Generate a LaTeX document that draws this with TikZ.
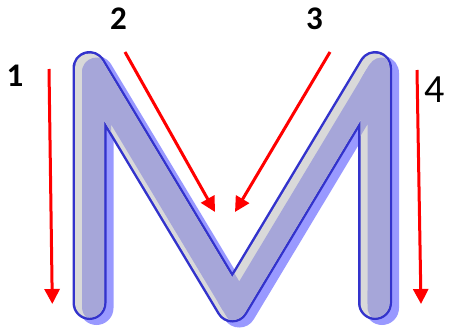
\documentclass[tikz,border=0pt]{standalone}
\usepackage{fontspec}
\setmainfont{Carlito}
\usetikzlibrary{calc,arrows.meta}
\definecolor{mblue}{HTML}{3333CC}
\definecolor{mlav}{HTML}{A6A6D9}
\definecolor{mgray}{HTML}{D9D9D9}
\definecolor{mshadow}{HTML}{9999FF}
\tikzset{
  mline/.style={insert path={(89.5,30) -- (89.5,265) -- (232.25,27.5) -- (375,265) -- (375,30)}},
  mstroke/.style={line cap=round, line join=round},
  arr/.style={draw=red, line width=3pt, -{Triangle[length=15pt,width=15pt,fill=red]}},
  lbl/.style={inner sep=0pt, font=\bfseries\fontsize{33}{33}\selectfont},
  lblreg/.style={inner sep=0pt, font=\fontsize{40}{40}\selectfont}
}
\newcommand\lavpiece[1]{\begin{scope}\clip #1;
  \draw[mstroke, draw=mlav, line width=29pt, shift={(7,-4)}, mline];
\end{scope}}
\begin{document}
\begin{tikzpicture}[x=1pt,y=1pt]
\useasboundingbox (0,0) rectangle (450,333);
\coordinate (A) at (89.5,30);
\coordinate (B) at (89.5,265);
\coordinate (C) at (232.25,27.5);
\coordinate (D) at (375,265);
\coordinate (E) at (375,30);
% shadow
\draw[mstroke, draw=mshadow, line width=34pt, shift={(7,-5)}, mline];
% outline
\draw[mstroke, draw=mblue, line width=34pt, mline];
% highlight base
\draw[mstroke, draw=mgray, line width=29pt, mline];
% lavender body, clipped to the letter
\lavpiece{(A) circle[radius=14.5]}
\lavpiece{(B) circle[radius=14.5]}
\lavpiece{(C) circle[radius=14.5]}
\lavpiece{(D) circle[radius=14.5]}
\lavpiece{(E) circle[radius=14.5]}
\lavpiece{($(A)!14.5pt!90:(B)$) -- ($(B)!14.5pt!-90:(A)$) -- ($(B)!14.5pt!90:(A)$) -- ($(A)!14.5pt!-90:(B)$) -- cycle}
\lavpiece{($(B)!14.5pt!90:(C)$) -- ($(C)!14.5pt!-90:(B)$) -- ($(C)!14.5pt!90:(B)$) -- ($(B)!14.5pt!-90:(C)$) -- cycle}
\lavpiece{($(C)!14.5pt!90:(D)$) -- ($(D)!14.5pt!-90:(C)$) -- ($(D)!14.5pt!90:(C)$) -- ($(C)!14.5pt!-90:(D)$) -- cycle}
\lavpiece{($(D)!14.5pt!90:(E)$) -- ($(E)!14.5pt!-90:(D)$) -- ($(E)!14.5pt!90:(D)$) -- ($(D)!14.5pt!-90:(E)$) -- cycle}
% labels
\node[lbl] (l1) at (15,257) {1};
\node[lbl] (l2) at (118.5,314.5) {2};
\node[lbl] (l3) at (314.5,314.5) {3};
\node[lblreg] (l4) at (434.5,243) {4};
% arrows
\coordinate (a1s) at (49,264);   \coordinate (a1e) at (52.3,29);
\coordinate (a2s) at (125,281);  \coordinate (a2e) at (215,121);
\coordinate (a3s) at (330,281);  \coordinate (a3e) at (235,121);
\coordinate (a4s) at (417,263);  \coordinate (a4e) at (421,29);
\draw[arr] (a1s) -- (a1e);
\draw[arr] (a2s) -- (a2e);
\draw[arr] (a3s) -- (a3e);
\draw[arr] (a4s) -- (a4e);
\end{tikzpicture}
\end{document}
